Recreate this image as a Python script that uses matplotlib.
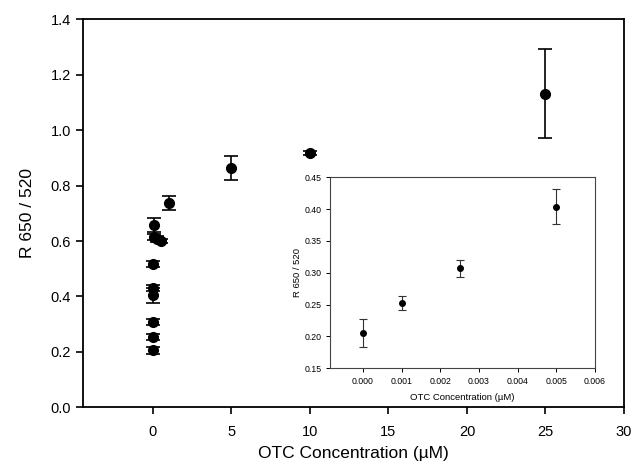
import matplotlib
matplotlib.use("Agg")
import matplotlib.pyplot as plt

plt.rcParams["font.family"] = ["Liberation Sans", "DejaVu Sans"]

# main panel: full concentration range
conc = [0, 0.001, 0.0025, 0.005, 0.01, 0.025, 0.05, 0.1, 0.25, 0.5, 1, 5, 10, 25]
ratio = [0.205, 0.253, 0.307, 0.404, 0.43, 0.518, 0.658, 0.615, 0.607, 0.60,
         0.737, 0.862, 0.918, 1.132]
ratio_err = [0.014, 0.010, 0.010, 0.027, 0.010, 0.010, 0.026, 0.010, 0.010, 0.008,
             0.026, 0.043, 0.008, 0.160]

# inset: low concentration range
conc_low = [0, 0.001, 0.0025, 0.005]
ratio_low = [0.205, 0.253, 0.307, 0.404]
ratio_low_err = [0.022, 0.011, 0.013, 0.027]

fig = plt.figure(figsize=(6.33, 4.73), dpi=100)
ax = fig.add_axes([0.1307, 0.1389, 0.8551, 0.8203])
ax.errorbar(conc, ratio, yerr=ratio_err, fmt="o", color="black",
            markersize=7, capsize=5, elinewidth=1.2, capthick=1.2)
ax.set_xlim(-4.47, 30)
ax.set_ylim(0, 1.4)
ax.set_xticks([0, 5, 10, 15, 20, 25, 30])
ax.set_yticks([0.0, 0.2, 0.4, 0.6, 0.8, 1.0, 1.2, 1.4])
ax.set_yticklabels(["0.0", "0.2", "0.4", "0.6", "0.8", "1.0", "1.2", "1.4"])
ax.tick_params(direction="out", length=5, width=1.2, labelsize=10.5)
ax.tick_params(axis="x", pad=8)
ax.tick_params(top=False, right=False)
for s in ax.spines.values():
    s.set_linewidth(1.3)
ax.set_xlabel("OTC Concentration (\u00b5M)", fontsize=12.5, labelpad=5)
ax.set_ylabel("R 650 / 520", fontsize=12.5, labelpad=11)

ins = fig.add_axes([0.5213, 0.2214, 0.4186, 0.4038])
ins.errorbar(conc_low, ratio_low, yerr=ratio_low_err, fmt="o", color="black",
             markersize=4, capsize=3, elinewidth=0.8, capthick=0.8,
             ecolor="#333333")
ins.set_xlim(-0.00085, 0.006)
ins.set_ylim(0.15, 0.45)
ins.set_xticks([0, 0.001, 0.002, 0.003, 0.004, 0.005, 0.006])
ins.set_xticklabels(["0.000", "0.001", "0.002", "0.003", "0.004", "0.005", "0.006"])
ins.set_yticks([0.15, 0.20, 0.25, 0.30, 0.35, 0.40, 0.45])
ins.set_yticklabels(["0.15", "0.20", "0.25", "0.30", "0.35", "0.40", "0.45"])
ins.tick_params(direction="out", length=3, width=0.7, labelsize=6.3, pad=3)
for s in ins.spines.values():
    s.set_linewidth(0.8)
    s.set_color("#444444")
ins.set_xlabel("OTC Concentration (\u00b5M)", fontsize=6.8, labelpad=5)
ins.set_ylabel("R 650 / 520", fontsize=6.8, labelpad=2)

fig.savefig("out.png", dpi=100)
